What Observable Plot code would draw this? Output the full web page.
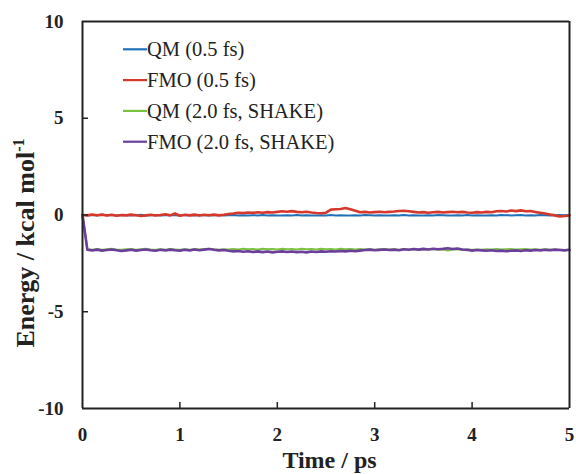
<!DOCTYPE html>
<html>
<head>
<meta charset="utf-8">
<script src="https://cdn.jsdelivr.net/npm/d3@7"></script>
<script src="https://cdn.jsdelivr.net/npm/@observablehq/plot@0.6"></script>
<style>
  html, body { margin: 0; padding: 0; background: #fff; }
</style>
</head>
<body>
<div id="chart"></div>
<script>
// Time grid (ps), sampled every 0.05 ps
const times = d3.range(0, 101).map(i => +(i * 0.05).toFixed(2));

const seriesNames = ["QM (0.5 fs)", "FMO (0.5 fs)", "QM (2.0 fs, SHAKE)", "FMO (2.0 fs, SHAKE)"];
const seriesColors = ["#2270b8", "#d6382c", "#7cc242", "#6b3e9c"];

// Energy values (kcal/mol)
const qm05 = [
  0.00,-0.01,0.00,-0.02,0.01,-0.01,0.00,-0.02,-0.01,0.00,
  -0.02,-0.01,0.01,-0.02,-0.01,0.00,-0.02,-0.01,0.00,-0.01,
  -0.02,0.00,-0.01,-0.02,0.00,-0.01,-0.02,-0.01,0.00,-0.02,
  -0.01,0.00,-0.02,-0.01,-0.03,-0.01,-0.02,0.00,-0.02,-0.01,
  -0.02,-0.03,-0.01,-0.02,0.00,-0.02,-0.01,-0.03,-0.02,-0.01,
  -0.02,0.00,-0.02,-0.01,-0.03,-0.02,-0.01,-0.02,0.00,-0.01,
  -0.02,-0.01,-0.03,-0.02,-0.01,-0.02,0.00,-0.02,-0.01,-0.03,
  -0.02,-0.01,-0.02,0.00,-0.01,-0.02,-0.03,-0.01,-0.02,0.00,
  -0.02,-0.01,-0.03,-0.02,-0.01,-0.02,0.00,-0.01,-0.02,-0.01,
  0.00,-0.02,-0.01,-0.02,0.00,-0.01,-0.02,-0.01,0.00,-0.01,
  0.00
];
const fmo05 = [
  0.00,-0.02,0.03,-0.01,0.02,-0.03,0.01,-0.04,0.00,-0.02,
  0.02,-0.01,-0.05,-0.02,0.01,-0.03,0.00,0.04,-0.02,0.08,
  -0.04,0.01,-0.02,0.02,-0.03,0.01,-0.01,0.02,-0.02,0.01,
  0.05,0.08,0.12,0.10,0.13,0.11,0.14,0.12,0.15,0.13,
  0.16,0.19,0.17,0.20,0.16,0.14,0.17,0.13,0.10,0.09,
  0.12,0.28,0.30,0.31,0.36,0.30,0.22,0.14,0.16,0.13,
  0.15,0.17,0.14,0.16,0.18,0.21,0.22,0.19,0.16,0.13,
  0.15,0.12,0.14,0.16,0.13,0.15,0.17,0.14,0.16,0.13,
  0.12,0.15,0.13,0.16,0.14,0.19,0.21,0.18,0.23,0.20,
  0.24,0.19,0.21,0.15,0.12,0.08,0.03,-0.02,-0.08,-0.05,
  -0.02
];
const qm20 = [
  0.00,-1.77,-1.80,-1.76,-1.79,-1.77,-1.75,-1.78,-1.80,-1.77,
  -1.76,-1.79,-1.77,-1.75,-1.78,-1.80,-1.77,-1.79,-1.76,-1.78,
  -1.80,-1.77,-1.79,-1.76,-1.78,-1.76,-1.74,-1.77,-1.79,-1.77,
  -1.78,-1.76,-1.78,-1.75,-1.77,-1.76,-1.78,-1.75,-1.77,-1.76,
  -1.78,-1.75,-1.77,-1.76,-1.78,-1.75,-1.77,-1.76,-1.78,-1.75,
  -1.77,-1.76,-1.78,-1.75,-1.77,-1.76,-1.78,-1.76,-1.78,-1.77,
  -1.79,-1.77,-1.76,-1.78,-1.77,-1.79,-1.76,-1.78,-1.77,-1.79,
  -1.77,-1.78,-1.76,-1.79,-1.77,-1.84,-1.78,-1.77,-1.79,-1.78,
  -1.80,-1.78,-1.79,-1.77,-1.78,-1.76,-1.78,-1.77,-1.76,-1.78,
  -1.77,-1.76,-1.78,-1.77,-1.79,-1.77,-1.78,-1.80,-1.79,-1.81,
  -1.80
];
const fmo20 = [
  0.00,-1.80,-1.83,-1.79,-1.84,-1.81,-1.78,-1.82,-1.86,-1.83,
  -1.80,-1.84,-1.81,-1.78,-1.82,-1.85,-1.80,-1.83,-1.79,-1.82,
  -1.84,-1.80,-1.83,-1.78,-1.82,-1.79,-1.76,-1.80,-1.83,-1.81,
  -1.85,-1.88,-1.86,-1.90,-1.87,-1.91,-1.88,-1.92,-1.89,-1.93,
  -1.90,-1.88,-1.91,-1.89,-1.92,-1.90,-1.93,-1.89,-1.91,-1.88,
  -1.90,-1.87,-1.89,-1.86,-1.88,-1.85,-1.87,-1.84,-1.81,-1.79,
  -1.82,-1.80,-1.78,-1.81,-1.79,-1.82,-1.77,-1.80,-1.76,-1.79,
  -1.75,-1.78,-1.74,-1.77,-1.75,-1.72,-1.76,-1.73,-1.78,-1.80,
  -1.84,-1.81,-1.83,-1.85,-1.82,-1.86,-1.84,-1.87,-1.85,-1.83,
  -1.86,-1.82,-1.84,-1.81,-1.83,-1.80,-1.82,-1.79,-1.81,-1.83,
  -1.80
];

const xTicks = [0, 1, 2, 3, 4, 5];
const yTicks = [-10, -5, 0, 5, 10];
const xEdges = [0, 5];
const yEdges = [-10, 10];
const xInnerTicks = [1, 2, 3, 4];
const yInnerTicks = [-5, 0, 5];
const xLabel = "Time / ps";
const yLabelMain = "Energy / kcal mol";
const yLabelSup = "-1";

const allSeries = [qm05, fmo05, qm20, fmo20];
const rows = [];
allSeries.forEach((vals, s) => {
  vals.forEach((v, i) => rows.push({series: seriesNames[s], t: times[i], e: v}));
});
const widths = [2, 2.6, 2, 2.6];

const W = 576, H = 474, mL = 82, mR = 7, mT = 21, mB = 66;
const frameW = W - mL - mR, frameH = H - mT - mB;
const font = "'Liberation Serif', 'Times New Roman', serif";

const plot = Plot.plot({
  width: W, height: H,
  marginLeft: mL, marginRight: mR, marginTop: mT, marginBottom: mB,
  style: {fontFamily: font},
  x: {domain: [0, 5], ticks: xTicks},
  y: {domain: [-10, 10], ticks: yTicks},
  marks: [
    ...seriesNames.map((name, s) =>
      Plot.line(rows.filter(d => d.series === name), {
        x: "t", y: "e", stroke: seriesColors[s], strokeWidth: widths[s]
      })
    ),
    // frame as four rules at the domain edges
    Plot.ruleX(xEdges, {x: d => d, stroke: "#222", strokeWidth: 2}),
    Plot.ruleY(yEdges, {y: d => d, stroke: "#222", strokeWidth: 2}),
    // inward ticks
    Plot.tickX(xInnerTicks, {x: d => d, insetTop: frameH - 6, stroke: "#222", strokeWidth: 1.5}),
    Plot.tickY(yInnerTicks, {y: d => d, insetRight: frameW - 6, stroke: "#222", strokeWidth: 1.5}),
    // tick labels
    Plot.axisX({ticks: xTicks, tickSize: 0, tickPadding: 19, tickFormat: d => String(d), label: null,
      fontSize: 19, fontWeight: "bold", fill: "#222"}),
    Plot.axisY({ticks: yTicks, tickSize: 0, tickPadding: 19, tickFormat: d => String(d), label: null,
      fontSize: 19, fontWeight: "bold", fill: "#222"})
  ]
});

document.getElementById("chart").appendChild(plot);

const svg = d3.select(plot);
const cx = mL + frameW / 2;

// x label
svg.append("text")
  .attr("x", cx + 4).attr("y", 468)
  .attr("text-anchor", "middle")
  .attr("font-family", font).attr("font-weight", "bold").attr("font-size", 24)
  .attr("fill", "#222")
  .text(xLabel);

// y label with superscript
const yl = svg.append("text")
  .attr("transform", `translate(34,243) rotate(-90)`)
  .attr("text-anchor", "middle")
  .attr("font-family", font).attr("font-weight", "bold").attr("font-size", 26)
  .attr("fill", "#222");
yl.append("tspan").text(yLabelMain);
yl.append("tspan").attr("dy", -10).attr("font-size", 16).text(yLabelSup);

// legend
const lg = svg.append("g").attr("font-family", font).attr("font-size", 20.5)
  .attr("fill", "#222").attr("text-anchor", "start");
seriesNames.forEach((name, i) => {
  const y = 49.3 + i * 30.8;
  lg.append("line").attr("x1", 123).attr("x2", 147).attr("y1", y).attr("y2", y)
    .attr("stroke", seriesColors[i]).attr("stroke-width", 2.2);
  lg.append("text").attr("x", 147).attr("y", y + 7).attr("text-anchor", "start").text(name);
});
</script>
</body>
</html>
